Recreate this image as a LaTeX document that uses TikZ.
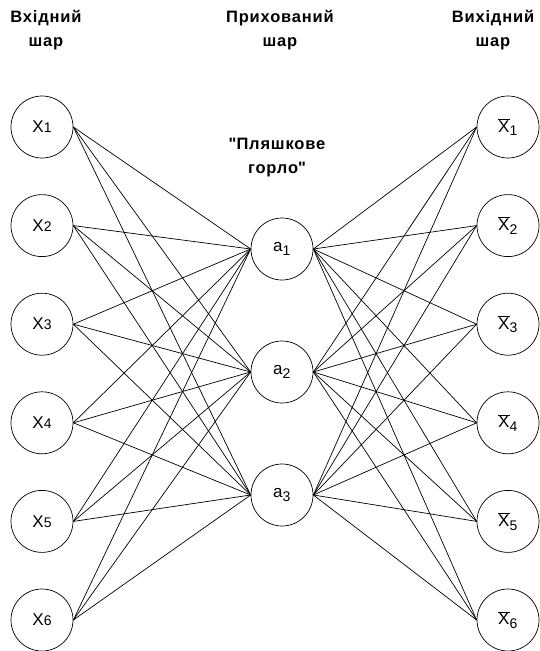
\documentclass[tikz,border=0pt]{standalone}
\usepackage{fontspec}
\setmainfont{Liberation Sans}
\newfontfamily\titlefont[LetterSpace=5]{Liberation Sans}
\usepackage{tikz}
\usetikzlibrary{calc}

\tikzset{
  neuron/.style={circle, draw, line width=0.7pt, minimum size=62pt, inner sep=0pt, font=\fontsize{17}{19}\selectfont},
  link/.style={line width=0.7pt},
  layertitle/.style={font=\titlefont\fontsize{16.5}{24}\selectfont\bfseries, align=center}
}
\newcommand{\subdigit}[1]{\mbox{\fontsize{14}{16}\selectfont#1}}

\begin{document}
\begin{tikzpicture}[x=1pt, y=-1pt]
  \useasboundingbox (0,0) rectangle (540,651);

  % ---------- titles ----------
  \node[layertitle] (tin) at (46,30) {Вхідний\\шар};
  \node[layertitle] (thid) at (280,30) {Прихований\\шар};
  \node[layertitle] (tout) at (493,30) {Вихідний\\шар};
  \node[layertitle] (tneck) at (277,158) {\textquotedbl Пляшкове\\горло\textquotedbl};

  % ---------- neurons ----------
  \foreach \i in {1,...,6} {
    \node[neuron] (x\i) at (42,{127+98.6*(\i-1)}) {X\subdigit{\i}};
    \node[neuron] (y\i) at (508,{127+98.6*(\i-1)}) {$\overline{\mbox{X}}_{\subdigit{\i}}$};
  }
  \foreach \j in {1,2,3} {
    \node[neuron] (a\j) at (282,{249+123*(\j-1)}) {a$_{\subdigit{\j}}$};
  }

  % ---------- connections ----------
  \foreach \i in {1,...,6} {
    \foreach \j in {1,2,3} {
      \draw[link] (x\i.east) -- (a\j.west);
      \draw[link] (a\j.east) -- (y\i.west);
    }
  }

\end{tikzpicture}
\end{document}
